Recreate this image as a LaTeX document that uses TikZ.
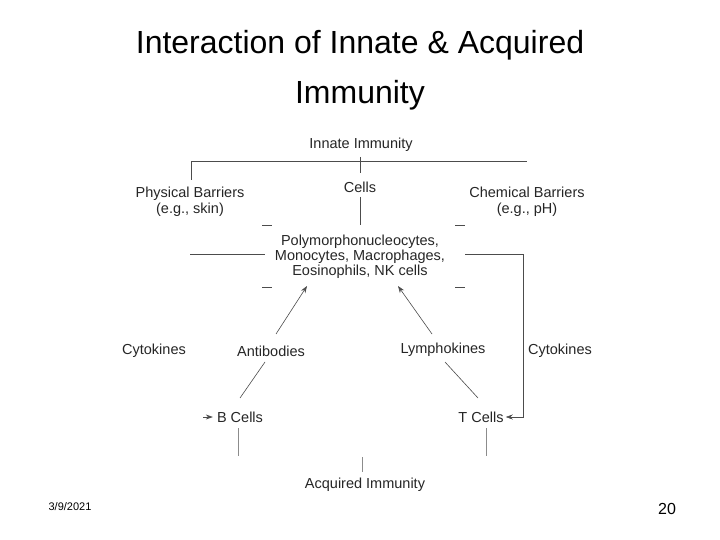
\documentclass[tikz,border=0pt]{standalone}
\usepackage{fontspec}
\setmainfont{Liberation Sans}
\usetikzlibrary{arrows.meta}
\begin{document}
\begin{tikzpicture}[x=1pt,y=-1pt,
  lbl/.style={inner sep=0pt,font=\fontsize{14.5}{16}\selectfont,text=black!85,align=center},
  ln/.style={draw=black!70,line width=0.6pt},
  arr/.style={ln,-{Stealth[length=7pt,width=5pt]}}]
\useasboundingbox[fill=white] (0,0) rectangle (720,540);
\node[font=\fontsize{32}{50}\selectfont,align=center] (title) at (360,70) {Interaction of Innate \& Acquired\\Immunity};
\node[lbl] (innate) at (361,145) {Innate Immunity};
\node[lbl] (phys) at (190,202) {Physical Barriers\\(e.g., skin)};
\node[lbl] (cells) at (360,187) {Cells};
\node[lbl] (chem) at (527,202) {Chemical Barriers\\(e.g., pH)};
\node[lbl,font=\fontsize{14.5}{15}\selectfont] (poly) at (360,257) {Polymorphonucleocytes,\\Monocytes, Macrophages,\\Eosinophils, NK cells};
\node[lbl] (cytl) at (154,351) {Cytokines};
\node[lbl] (anti) at (271,351) {Antibodies};
\node[lbl] (lymph) at (443,350) {Lymphokines};
\node[lbl] (cytr) at (560,351) {Cytokines};
\node[lbl] (bc) at (240,417) {B Cells};
\node[lbl] (tc) at (481,417) {T Cells};
\node[lbl] (acq) at (365,485) {Acquired Immunity};
\node[font=\fontsize{11}{13}\selectfont] (date) at (70,507) {3/9/2021};
\node[font=\fontsize{16}{18}\selectfont] (num) at (667,509) {20};
\coordinate (tl) at (191,161); \coordinate (tr) at (527,161);
\draw[ln] (191,180) -- (tl) -- (tr);
\draw[ln] (360,157) -- (360,173);
\draw[ln] (360,197) -- (360,225);
\foreach \x in {262,455}{\draw[ln] (\x,225) -- (\x+10,225); \draw[ln] (\x,287) -- (\x+10,287);}
\draw[ln] (190,254) -- (265,254);
\draw[arr] (523,254) -- (465,254) ++(58,0) -- (523,417) -- ([xshift=2pt]tc.east);
\coordinate (ba) at (203,417);
\draw[arr] (ba) -- ([xshift=-4pt]bc.west);
\draw[arr] (276,334) -- (307,286);
\draw[arr] (432,334) -- (398,286);
\draw[ln] (265,362) -- (240,398);
\draw[ln] (445,362) -- (478,398);
\draw[ln,draw=black!45] (238,428) -- (238,456);
\draw[ln,draw=black!45] (486,428) -- (486,456);
\draw[ln,draw=black!45] (362,457) -- (362,472);
\end{tikzpicture}
\end{document}
